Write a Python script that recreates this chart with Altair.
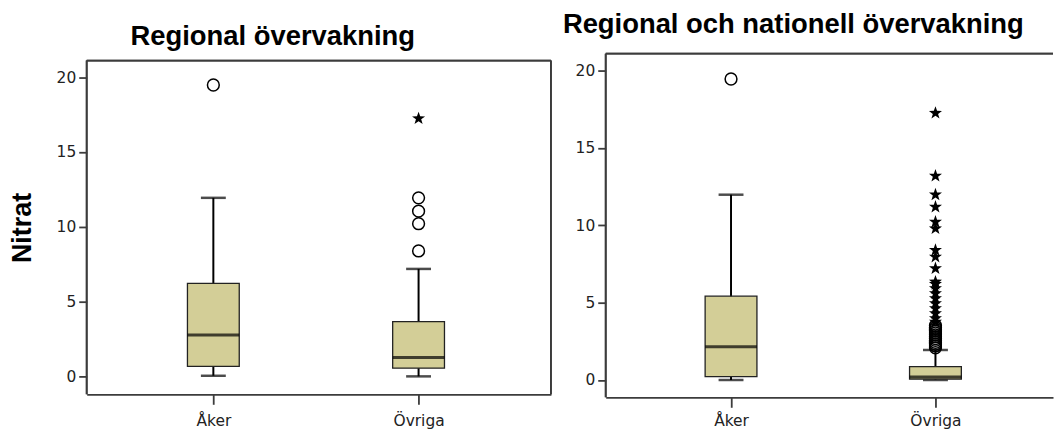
import altair as alt
import pandas as pd

CATS = ["Åker", "Övriga"]

# Left panel: Regional övervakning
L_LO = [0.04, 0.0]
L_Q1 = [0.67, 0.55]
L_MED = [2.77, 1.26]
L_Q3 = [6.21, 3.66]
L_HI = [11.93, 7.18]
L_CIRCLES = [[19.47], [8.38, 10.2, 11.04, 11.93]]
L_STARS = [[], [17.23]]

# Right panel: Regional och nationell övervakning
R_LO = [0.0, 0.0]
R_Q1 = [0.22, 0.05]
R_MED = [2.15, 0.2]
R_Q3 = [5.42, 0.86]
R_HI = [11.98, 1.94]
R_CIRCLES = [[19.46], [2.08, 2.2, 2.32, 2.44, 2.56, 2.68, 2.8, 2.92, 3.04, 3.16, 3.28, 3.4, 3.52]]
R_STARS = [[], [3.75, 3.98, 4.3, 4.63, 4.95, 5.27, 5.6, 5.92, 6.2, 6.35, 7.21, 7.96,
                8.39, 9.79, 10.22, 11.19, 11.98, 13.19, 17.26]]

Y_TICKS = [0, 5, 10, 15, 20]

FILL = "#D3CE97"
FRAME = "#3c3c3c"
STAR = ("M0,-1L0.235,-0.324L0.951,-0.309L0.38,0.124L0.588,0.809L0,0.4"
        "L-0.588,0.809L-0.38,0.124L-0.951,-0.309L-0.235,-0.324Z")
LABEL_FONT = "DejaVu Sans"


def panel(title, lo, q1, med, q3, hi, circles, stars, width, height, top,
          ydomain, xpad, xalign, ytitle, title_dx, title_dy, right_border, xlabpad):
    box = pd.DataFrame({"cat": CATS, "lo": lo, "q1": q1, "med": med, "q3": q3, "hi": hi})
    circ = pd.DataFrame([(c, v) for c, vals in zip(CATS, circles) for v in vals],
                        columns=["cat", "v"])
    star = pd.DataFrame([(c, v) for c, vals in zip(CATS, stars) for v in vals],
                        columns=["cat", "v"])

    xscale = alt.Scale(type="point", domain=CATS, padding=xpad, align=xalign)
    xaxis = alt.Axis(title=None, labelAngle=0, labelFont=LABEL_FONT, labelFontSize=15.5,
                     labelColor="#222", tickSize=10, tickWidth=1.8, tickColor=FRAME,
                     domainColor=FRAME, domainWidth=1.8, labelPadding=xlabpad)
    yscale = alt.Scale(domain=ydomain, nice=False, zero=False, range=[height, top])
    yaxis_kw = dict(values=Y_TICKS, grid=False, tickSize=8, tickWidth=1.8, tickColor=FRAME,
                    domain=False, labelFont=LABEL_FONT,
                    labelFontSize=15.5, labelColor="#222", labelPadding=3)
    if ytitle:
        yaxis = alt.Axis(title=ytitle, titleFont="Liberation Sans", titleFontSize=27,
                         titleFontWeight="bold", titleColor="black", titlePadding=20, **yaxis_kw)
    else:
        yaxis = alt.Axis(title=None, **yaxis_kw)

    def X():
        return alt.X("cat:N", scale=xscale, axis=xaxis)

    def Y(f):
        return alt.Y(f, type="quantitative", scale=yscale, axis=yaxis)

    base = alt.Chart(box)
    whisker = base.mark_rule(color="black", strokeWidth=2).encode(x=X(), y=Y("lo"), y2="hi")
    bars = base.mark_bar(size=52, fill=FILL, stroke="#222", strokeWidth=1.3).encode(
        x=X(), y=Y("q1"), y2="q3")
    median = base.mark_tick(size=52, thickness=3, color="black", orient="horizontal").encode(
        x=X(), y=Y("med"))
    cap_lo = base.mark_tick(size=25, thickness=2.5, color="black", orient="horizontal").encode(
        x=X(), y=Y("lo"))
    cap_hi = base.mark_tick(size=25, thickness=2.5, color="black", orient="horizontal").encode(
        x=X(), y=Y("hi"))
    pts_c = alt.Chart(circ).mark_point(shape="circle", filled=False, stroke="black",
                                       strokeWidth=1.5, size=140, opacity=1).encode(
        x=X(), y=Y("v"))
    layers = [whisker, cap_lo, cap_hi, bars, median, pts_c]
    if len(star):
        pts_s = alt.Chart(star).mark_point(shape=STAR, filled=True, fill="black",
                                           strokeWidth=0, size=190, opacity=1).encode(
            x=X(), y=Y("v"))
        layers.append(pts_s)
    top_rule = alt.Chart(box).mark_rule(color=FRAME, strokeWidth=1.8).encode(
        x=alt.value(0), x2=alt.value(width), y=alt.value(top))
    left_rule = alt.Chart(box).mark_rule(color=FRAME, strokeWidth=1.8).encode(
        x=alt.value(0), y=alt.value(top), y2=alt.value(height))
    layers += [top_rule, left_rule]
    if right_border:
        rb = alt.Chart(box).mark_rule(color=FRAME, strokeWidth=1.8).encode(
            x=alt.value(width), y=alt.value(top), y2=alt.value(height))
        layers.append(rb)

    return alt.layer(*layers).properties(
        width=width, height=height,
        title=alt.TitleParams(title, anchor="start", frame="group", dx=title_dx,
                              dy=title_dy, offset=0, baseline="alphabetic",
                              font="Liberation Sans", fontSize=27.5, fontWeight="bold",
                              color="black"),
    )


left = panel("Regional övervakning", L_LO, L_Q1, L_MED, L_Q3, L_HI, L_CIRCLES, L_STARS,
             466, 342, 7, [-1.2, 21.1], 0.631, 0.489, "Nitrat", 44, 18.5, True, 9)
right = panel("Regional och nationell övervakning", R_LO, R_Q1, R_MED, R_Q3, R_HI,
              R_CIRCLES, R_STARS, 449, 345, 0, [-1.12, 21.1], 0.594, 0.516, None, -43, 8,
              False, 6)

chart = alt.hconcat(left, right, spacing=55, bounds="flush").properties(
    padding={"left": 0, "top": 2, "right": 0, "bottom": 0},
    background="white",
).configure_view(stroke=None)

chart.save("out.html", embed_options={"renderer": "svg", "actions": False})
